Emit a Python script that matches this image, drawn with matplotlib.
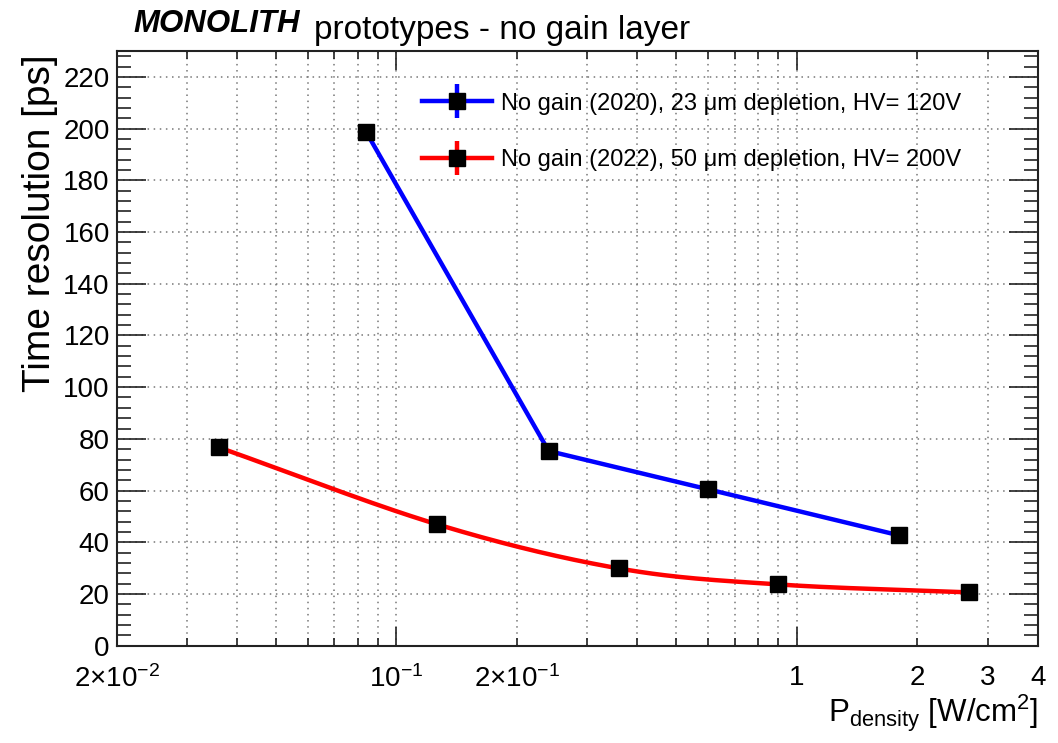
import numpy as np
import matplotlib
matplotlib.use("Agg")
import matplotlib.pyplot as plt
from matplotlib.lines import Line2D
from matplotlib.ticker import FixedLocator

plt.rcParams["font.family"] = ["Liberation Sans", "DejaVu Sans"]
plt.rcParams["mathtext.fontset"] = "custom"
plt.rcParams["mathtext.rm"] = "Liberation Sans"
plt.rcParams["mathtext.it"] = "Liberation Sans:italic"
plt.rcParams["mathtext.bf"] = "Liberation Sans:bold"

# data
p_2020 = [0.084, 0.24, 0.60, 1.80]
sigma_2020 = [198.7, 75.3, 60.5, 42.7]
p_2022 = [0.036, 0.126, 0.359, 0.898, 2.70]
sigma_2022 = [76.7, 47.0, 29.9, 23.7, 20.6]

label_2020 = "No gain (2020), 23 \u03bcm depletion, HV= 120V"
label_2022 = "No gain (2022), 50 \u03bcm depletion, HV= 200V"

x_major = [0.1, 1.0]
x_minor = [0.02, 0.03, 0.04, 0.05, 0.06, 0.07, 0.08, 0.09,
           0.2, 0.3, 0.4, 0.5, 0.6, 0.7, 0.8, 0.9, 2.0, 3.0, 4.0]
x_major_labels = [r"$10^{-1}$", "1"]
x_minor_labels = {0.02: r"$2{\times}10^{-2}$", 0.2: r"$2{\times}10^{-1}$",
                  2.0: "2", 3.0: "3", 4.0: "4"}

BLUE = "#0000ff"
RED = "#ff0000"


def smooth_curve(xs, ys, n=40):
    # Catmull-Rom through the points, in log-x space (like ROOT's "C" option)
    lx = np.log10(xs)
    pts = np.column_stack([lx, ys])
    ext = np.vstack([2 * pts[0] - pts[1], pts, 2 * pts[-1] - pts[-2]])
    out = []
    t = np.linspace(0, 1, n)[:, None]
    for i in range(1, len(ext) - 2):
        p0, p1, p2, p3 = ext[i - 1], ext[i], ext[i + 1], ext[i + 2]
        seg = 0.5 * ((2 * p1) + (-p0 + p2) * t
                     + (2 * p0 - 5 * p1 + 4 * p2 - p3) * t ** 2
                     + (-p0 + 3 * p1 - 3 * p2 + p3) * t ** 3)
        out.append(seg)
    out = np.vstack(out)
    return 10 ** out[:, 0], out[:, 1]


fig = plt.figure(figsize=(10.58, 7.43), dpi=100)
ax = fig.add_axes([116.7 / 1058, 1 - 645.7 / 743,
                   (1037.7 - 116.7) / 1058, (645.7 - 51) / 743])

ax.set_xscale("log")
ax.set_xlim(0.02, 4.0)
ax.set_ylim(0, 230)

ax.xaxis.set_major_locator(FixedLocator(x_major))
ax.xaxis.set_minor_locator(FixedLocator(x_minor))
ax.set_xticklabels(x_major_labels)
ax.set_xticklabels([x_minor_labels.get(v, "") for v in x_minor], minor=True)
ax.set_yticks(np.arange(0, 221, 20))
ax.set_yticks(np.arange(0, 231, 4), minor=True)

ax.grid(True, which="both", axis="x", color="#777777", linestyle=(0, (1, 3)), linewidth=1.1)
ax.grid(True, which="major", axis="y", color="#777777", linestyle=(0, (1, 3)), linewidth=1.1)

ax.tick_params(axis="both", which="both", direction="in", top=True, right=True,
               width=1.2, labelsize=20, color="#222222")
ax.tick_params(axis="x", which="major", length=13.5, pad=14)
ax.tick_params(axis="x", which="minor", length=6, pad=14)
ax.tick_params(axis="y", which="major", length=21, pad=5)
ax.tick_params(axis="y", which="minor", length=10)
for s in ax.spines.values():
    s.set_linewidth(1.5)
    s.set_color("#222222")

# 2020 series: straight segments
ax.plot(p_2020, sigma_2020, color=BLUE, lw=3.2, zorder=3)
ax.plot(p_2020, sigma_2020, ls="none", marker="s", ms=12, color="black", zorder=4)

# 2022 series: smooth curve
sx, sy = smooth_curve(p_2022, sigma_2022)
ax.plot(sx, sy, color=RED, lw=3.2, zorder=3)
ax.plot(p_2022, sigma_2022, ls="none", marker="s", ms=12, color="black", zorder=4)

handles = []
for c in (BLUE, RED):
    handles.append((Line2D([], [], color=c, lw=3.2),
                    Line2D([], [], color=c, ls="none", marker="|", ms=24, mew=3.2),
                    Line2D([], [], color="black", ls="none", marker="s", ms=12)))
ax.legend(handles, [label_2020, label_2022], loc="upper left",
          bbox_to_anchor=(0.331, 0.93), frameon=False, fontsize=17,
          handlelength=3.0, handletextpad=0.35, labelspacing=1.45, borderpad=0,
          borderaxespad=0)

t1 = fig.text(133 / 1058, 1 - 32 / 743, "MONOLITH", fontsize=22.5,
              fontweight="bold", fontstyle="italic", va="baseline")
ax.annotate("prototypes - no gain layer", xy=(1, 0), xycoords=t1,
            xytext=(10, 0), textcoords="offset points", fontsize=24,
            va="baseline", annotation_clip=False)

fig.text(40 / 1058, 1 - 54 / 743, "Time resolution [ps]", rotation=90,
         fontsize=28, ha="center", va="top")
fig.text(1037.7 / 1058, 1 - 722 / 743, r"P$_{\mathrm{density}}$ [W/cm$^{2}$]",
         fontsize=22.5, ha="right", va="baseline")

fig.savefig("out.png", dpi=100)
